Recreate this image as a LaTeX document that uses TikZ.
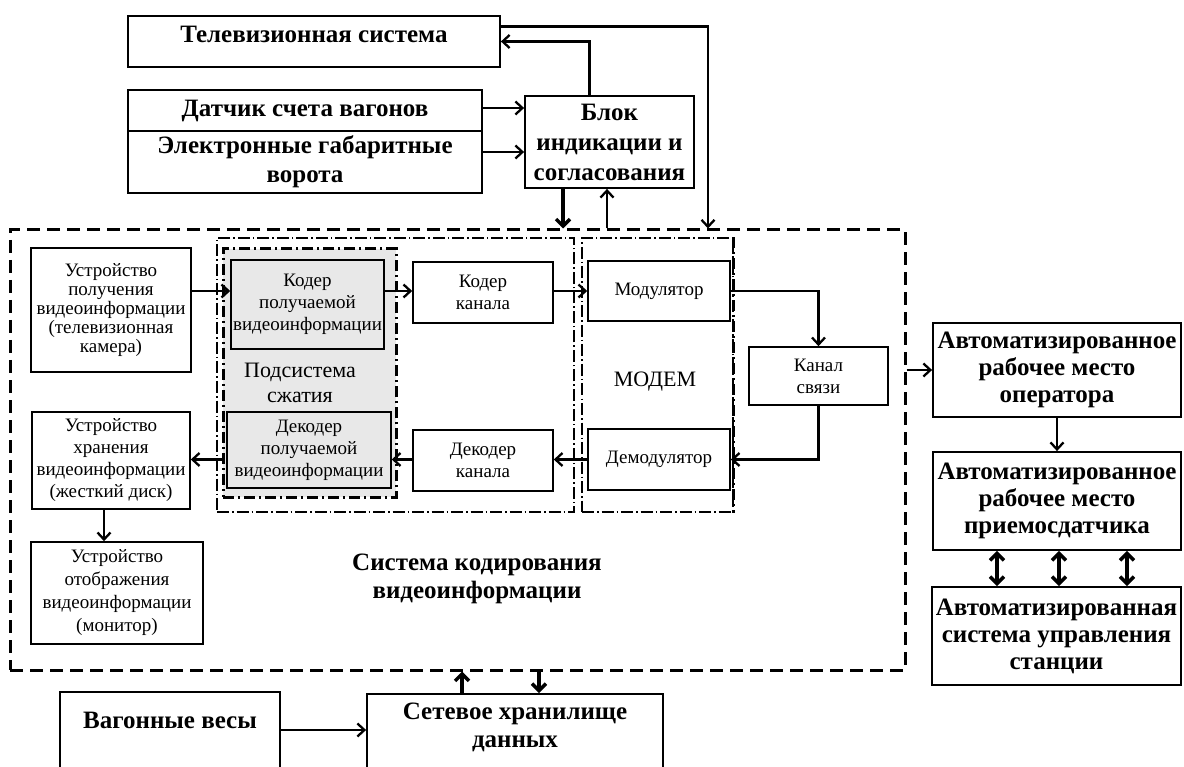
\documentclass[tikz,border=0pt]{standalone}
\usepackage{fontspec}
\setmainfont{Liberation Serif}
\usetikzlibrary{arrows.meta}
\definecolor{lightgrey}{RGB}{232,232,232}
\tikzset{>={Straight Barb[length=7pt,width=13pt]}}
\tikzset{
  blk/.style={draw, line width=1.6pt, align=center, inner sep=1pt,
    font=\fontsize{19}{22}\selectfont},
  bblk/.style={draw, line width=1.8pt, align=center, inner sep=1pt,
    font=\fontsize{25}{29}\selectfont\bfseries},
  rblk/.style={draw, line width=1.8pt, align=center, inner sep=1pt,
    font=\fontsize{25}{27}\selectfont\bfseries},
  sysbox/.style={draw, line width=3pt, dash pattern=on 13pt off 7pt},
  ddline/.style={draw, line width=1.1pt, dash pattern=on 12pt off 3pt on 1.5pt off 3pt},
  ddthick/.style={line width=3pt, dash pattern=on 11pt off 4pt on 2pt off 4pt},
  conn/.style={->, line width=2.3pt},
  bconn/.style={-{Straight Barb[length=7pt,width=14pt]}, line width=3.5pt},
  dconn/.style={{Straight Barb[length=7pt,width=14pt]}-{Straight Barb[length=7pt,width=14pt]}, line width=3.5pt}
}

\begin{document}
\begin{tikzpicture}[x=1pt,y=-1pt]
    \clip (0,0) rectangle (1184,767);
    % system of coding
    \node[sysbox, minimum width=895pt, minimum height=440pt](sys) at (457.5,450) {};
    \node[ddline, minimum width=357pt, minimum height=274pt](cod) at (395.5,375) {};
    \node[ddline, minimum width=151pt, minimum height=274pt](mdm) at (657.5,375) {};
    \draw[ddthick] (mdm.north east) -- (mdm.south east);
    \node[draw, ddthick, fill=lightgrey, minimum width=173pt, minimum height=248pt](szh) at (309.5,373) {};
    \node[font=\fontsize{22}{25}\selectfont, align=center](szht) at (300,383) {Подсистема\\сжатия};
    \node[font=\fontsize{22}{25}\selectfont](mdmt) at (655,382) {МОДЕМ};
    \node[font=\fontsize{25}{28}\selectfont\bfseries, align=center](syst) at (477,579) {Система кодирования\\видеоинформации};

    \node[blk, minimum width=160pt, minimum height=124pt, font=\fontsize{19}{19}\selectfont](cam) at (111,310)
        {Устройство\\получения\\видеоинформации\\(телевизионная\\камера)};
    \node[blk, fill=lightgrey, minimum width=153pt, minimum height=89pt](kod) at (307.5,304.5)
        {Кодер\\получаемой\\видеоинформации};
    \node[blk, fill=lightgrey, minimum width=164pt, minimum height=76pt](dek) at (309,450)
        {Декодер\\получаемой\\видеоинформации};
    \node[blk, minimum width=140pt, minimum height=61pt](kk) at (483,292.5) {Кодер\\канала};
    \node[blk, minimum width=140pt, minimum height=61pt](dk) at (483,460.5) {Декодер\\канала};
    \node[blk, minimum width=142pt, minimum height=60pt](mod) at (659,291) {Модулятор};
    \node[blk, minimum width=142pt, minimum height=61pt](dem) at (659,459.5) {Демодулятор};
    \node[blk, minimum width=139pt, minimum height=58pt](kan) at (818.5,376) {Канал\\связи};
    \node[blk, minimum width=158pt, minimum height=97pt](xr) at (111,460.5)
        {Устройство\\хранения\\видеоинформации\\(жесткий диск)};
    \node[blk, minimum width=172pt, minimum height=102pt, font=\fontsize{19}{23}\selectfont](otb) at (117,593)
        {Устройство\\отображения\\видеоинформации\\(монитор)};

    % upper part
    \node[bblk, minimum width=372pt, minimum height=51pt,
        label={[anchor=north, yshift=-7.5pt, font=\fontsize{25}{29}\selectfont\bfseries]north:Телевизионная система}](tv) at (314,41.5) {};
    \node[bblk, minimum width=354pt, minimum height=41pt](dat) at (305,110.5) {Датчик счета вагонов};
    \node[bblk, minimum width=354pt, minimum height=62pt](gab) at (305,162) {Электронные габаритные\\ворота};
    \node[bblk, minimum width=169pt, minimum height=92pt, font=\fontsize{25}{30}\selectfont\bfseries](blok) at (609.5,142)
        {Блок\\индикации и\\согласования};

    % right part
    \node[rblk, minimum width=248pt, minimum height=94pt](arm1) at (1057,370) {Автоматизированное\\рабочее место\\оператора};
    \node[rblk, minimum width=248pt, minimum height=98pt](arm2) at (1057,501) {Автоматизированное\\рабочее место\\приемосдатчика};
    \node[rblk, minimum width=249pt, minimum height=98pt](asu) at (1056.5,636) {Автоматизированная\\система управления\\станции};

    % lower part
    \node[bblk, minimum width=220pt, minimum height=120pt,
        label={[anchor=north, yshift=-17.5pt, font=\fontsize{25}{29}\selectfont\bfseries]north:Вагонные весы}](vag) at (170,752) {};
    \node[bblk, minimum width=296pt, minimum height=120pt,
        label={[anchor=north, yshift=-6.5pt, font=\fontsize{25}{28}\selectfont\bfseries, align=center]north:Сетевое хранилище\\данных}](set) at (515,754) {};

    % connections
    \draw[conn] ([yshift=15pt]tv.east) -| ([xshift=250.5pt]sys.north);
    \draw[conn] ([xshift=-20pt]blok.north) |- (tv.east);
    \draw[conn] ([yshift=2.5pt]dat.east) -- ([yshift=2.5pt]dat.east -| blok.west);
    \draw[conn] ([yshift=10pt]gab.east) -- ([yshift=10pt]gab.east -| blok.west);
    \draw[bconn] ([xshift=-46.5pt]blok.south) -- ([xshift=-46.5pt]blok.south |- sys.north);
    \draw[conn] ([xshift=-2.5pt]blok.south |- sys.north) -- ([xshift=-2.5pt]blok.south);

    \draw[conn] (cam.east |- mod.west) -- (kod.west |- mod.west);
    \draw[conn] (kod.east |- mod.west) -- (kk.west |- mod.west);
    \draw[conn] (kk.east |- mod.west) -- (mod.west);
    \draw[conn] (mod.east) -| (kan.north);
    \draw[conn] (kan.south) |- (dem.east);
    \draw[conn] (dem.west) -- (dk.east |- dem.west);
    \draw[conn] (dk.west |- dem.west) -- (dek.east |- dem.west);
    \draw[conn] (szh.west |- dem.west) -- (xr.east |- dem.west);
    \draw[conn] ([xshift=-7pt]xr.south) -- ([xshift=-7pt]xr.south |- otb.north);

    \draw[conn] (sys.east |- arm1.west) -- (arm1.west);
    \draw[conn] (arm1.south) -- (arm2.north);
    \foreach \dx in {-60,2,70}
        \draw[dconn] ([xshift=\dx pt]arm2.south) -- ([xshift=\dx pt]arm2.south |- asu.north);

    \draw[conn] ([yshift=22pt]vag.east) -- ([yshift=22pt]vag.east -| set.west);
    \draw[bconn] ([xshift=-53pt]set.north) -- ([xshift=-53pt]set.north |- sys.south);
    \draw[bconn] ([xshift=24pt]set.north |- sys.south) -- ([xshift=24pt]set.north);
\end{tikzpicture}
\end{document}
